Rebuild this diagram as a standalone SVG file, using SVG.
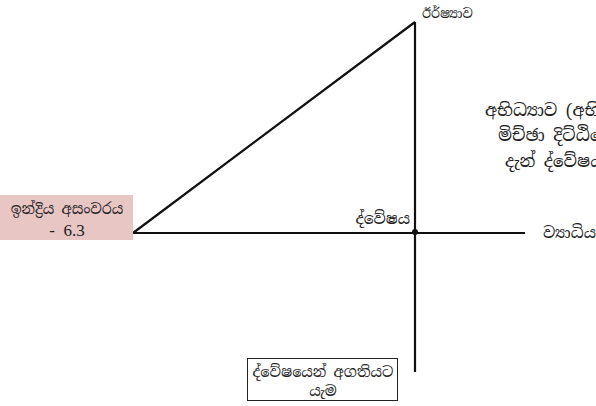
<svg xmlns="http://www.w3.org/2000/svg" width="596" height="406" viewBox="0 0 596 406">
<style>
text{font-family:"Noto Serif Sinhala","Noto Sans Sinhala","Iskoola Pota","Noto Sans",sans-serif;font-size:14px;fill:#222}
.big{font-size:17px}
.num{font-family:"Liberation Serif",serif;font-size:17px}
.ln{stroke:#111;stroke-width:2.2;fill:none}
</style>
<rect width="596" height="406" fill="#fff"/>
<g id="connectors">
<line class="ln" x1="133" y1="233" x2="525" y2="233"/>
<line class="ln" x1="415" y1="22" x2="415" y2="372"/>
<line class="ln" x1="133" y1="233" x2="415" y2="22"/>
<circle cx="415" cy="232" r="3" fill="#111"/>
</g>
<g id="indriya">
<rect x="0" y="195" width="133" height="45" fill="#e8c6c4"/>
<text x="67" y="214" text-anchor="middle" style="font-size:14.5px">ඉන්ද්‍රිය අසංවරය</text>
<text class="num" x="67" y="236" text-anchor="middle">-&#160;&#160;6.3</text>
</g>
<g id="irshyawa"><text x="422" y="18" style="font-size:13px">ඊර්ෂ්‍යාව</text></g>
<g id="dweshaya"><text x="410" y="224" text-anchor="end" style="font-size:15.5px">ද්වේෂය</text></g>
<g id="vyadhiya"><text x="543" y="238" style="font-size:15.5px">ව්‍යාධිය</text></g>
<g id="abhidyawa">
<text class="big" x="485" y="116">අභිධ්‍යාව (අභිධ්‍යාව</text>
<text class="big" x="498" y="141">මිච්ඡා දිට්ඨියෙන්</text>
<text class="big" x="505" y="167">දැන් ද්වේෂයට</text>
</g>
<g id="agatiya">
<rect x="247.5" y="358.5" width="150" height="42" fill="#fff" stroke="#222" stroke-width="1"/>
<text x="323" y="377" text-anchor="middle" style="font-size:14.5px">ද්වේෂයෙන් අගතියට</text>
<text x="323" y="396" text-anchor="middle" style="font-size:14.5px">යැම</text>
</g>
</svg>
